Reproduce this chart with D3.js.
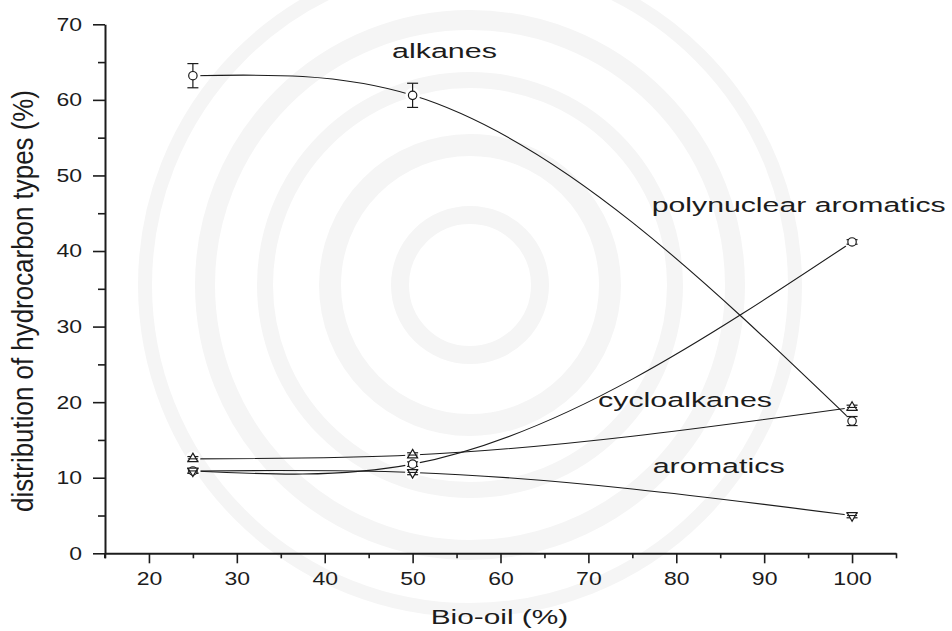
<!DOCTYPE html>
<html>
<head>
<meta charset="utf-8">
<script src="https://cdn.jsdelivr.net/npm/d3@7"></script>
<style>
  html, body { margin: 0; padding: 0; background: #fff; }
  svg { display: block; font-family: "Liberation Sans", Arial, sans-serif; }
</style>
</head>
<body>
<svg id="chart" width="952" height="631"></svg>
<script>
// Bio-oil share in the feed (%)
const bioOil = [25, 50, 100];

// Hydrocarbon type distribution (%) with error half-widths
const alkanes = [63.2, 60.6, 17.5];
const alkanesErr = [1.6, 1.6, 0.6];
const polynuclear = [10.9, 11.8, 41.2];
const polynuclearErr = [0.3, 0.3, 0.3];
const cycloalkanes = [12.5, 13.0, 19.3];
const cycloalkanesErr = [0.3, 0.3, 0.3];
const aromatics = [10.9, 10.7, 5.0];
const aromaticsErr = [0.3, 0.3, 0.3];

// Axis ticks
const xMajor = [20, 30, 40, 50, 60, 70, 80, 90, 100];
const xMinor = [15, 25, 35, 45, 55, 65, 75, 85, 95, 105];
const yMajor = [0, 10, 20, 30, 40, 50, 60, 70];
const yMinor = [5, 15, 25, 35, 45, 55, 65];

const ink = "#1c1c1c";
const svg = d3.select("#chart");

const x = d3.scaleLinear().domain([15, 105]).range([105, 896]);
const y = d3.scaleLinear().domain([0, 70]).range([553.3, 24.3]);

// very faint seal-like rings in the backdrop
const bg = svg.append("g");
[[70, 18], [140, 22], [205, 16], [265, 20], [325, 14]].forEach(([r, w]) => {
  bg.append("circle").attr("cx", 470).attr("cy", 285).attr("r", r)
    .attr("fill", "none").attr("stroke", "#f5f5f5").attr("stroke-width", w);
});

// Natural cubic spline with x as the independent variable
function NaturalX(context) { this._context = context; }
NaturalX.prototype = {
  areaStart() { this._line = 0; },
  areaEnd() { this._line = NaN; },
  lineStart() { this._x = []; this._y = []; },
  point(px, py) { this._x.push(+px); this._y.push(+py); },
  lineEnd() {
    const xs = this._x, ys = this._y, n = xs.length, c = this._context;
    if (!n) return;
    c.moveTo(xs[0], ys[0]);
    if (n === 1) return;
    if (n === 2) { c.lineTo(xs[1], ys[1]); return; }
    const h = [];
    for (let i = 0; i < n - 1; i++) h.push(xs[i + 1] - xs[i]);
    const M = new Array(n).fill(0);
    const m = n - 2, a = [], b = [], cc = [], d = [];
    for (let k = 0; k < m; k++) {
      const i = k + 1;
      a.push(h[i - 1]);
      b.push(2 * (h[i - 1] + h[i]));
      cc.push(h[i]);
      d.push(6 * ((ys[i + 1] - ys[i]) / h[i] - (ys[i] - ys[i - 1]) / h[i - 1]));
    }
    for (let k = 1; k < m; k++) {
      const w = a[k] / b[k - 1];
      b[k] -= w * cc[k - 1];
      d[k] -= w * d[k - 1];
    }
    M[m] = d[m - 1] / b[m - 1];
    for (let k = m - 2; k >= 0; k--) M[k + 1] = (d[k] - cc[k] * M[k + 2]) / b[k];
    for (let i = 0; i < n - 1; i++) {
      const hi = h[i], s = (ys[i + 1] - ys[i]) / hi;
      const d0 = s - hi * (2 * M[i] + M[i + 1]) / 6;
      const d1 = s + hi * (M[i] + 2 * M[i + 1]) / 6;
      c.bezierCurveTo(xs[i] + hi / 3, ys[i] + d0 * hi / 3,
                      xs[i + 1] - hi / 3, ys[i + 1] - d1 * hi / 3,
                      xs[i + 1], ys[i + 1]);
    }
  }
};
const curveNaturalX = ctx => new NaturalX(ctx);

const series = [
  { name: "alkanes", values: alkanes, err: alkanesErr, shape: "circle" },
  { name: "polynuclear aromatics", values: polynuclear, err: polynuclearErr, shape: "circle" },
  { name: "cycloalkanes", values: cycloalkanes, err: cycloalkanesErr, shape: "up" },
  { name: "aromatics", values: aromatics, err: aromaticsErr, shape: "down" }
];
series.forEach(s => { s.points = bioOil.map((b, i) => ({ x: b, y: s.values[i], e: s.err[i], shape: s.shape })); });

const line = d3.line().x(d => x(d.x)).y(d => y(d.y)).curve(curveNaturalX);

const gLines = svg.append("g");
series.forEach(s => {
  gLines.append("path").attr("d", line(s.points))
    .attr("fill", "none").attr("stroke", ink).attr("stroke-width", 1.1);
});

const allPts = series.flatMap(s => s.points);

// white clearance around each marker
svg.append("g").selectAll("circle").data(allPts).join("circle")
  .attr("cx", d => x(d.x)).attr("cy", d => y(d.y)).attr("r", 7.5).attr("fill", "#fff");

// error bars
const gErr = svg.append("g").attr("stroke", ink).attr("stroke-width", 1.2);
allPts.forEach(d => {
  const cx = x(d.x), y0 = y(d.y - d.e), y1 = y(d.y + d.e);
  gErr.append("line").attr("x1", cx).attr("x2", cx).attr("y1", y0).attr("y2", y1);
  gErr.append("line").attr("x1", cx - 5.5).attr("x2", cx + 5.5).attr("y1", y0).attr("y2", y0);
  gErr.append("line").attr("x1", cx - 5.5).attr("x2", cx + 5.5).attr("y1", y1).attr("y2", y1);
});

// markers
const tri = d3.symbol().type(d3.symbolTriangle).size(42);
const gMk = svg.append("g");
allPts.forEach(d => {
  const cx = x(d.x), cy = y(d.y);
  if (d.shape === "circle") {
    gMk.append("circle").attr("cx", cx).attr("cy", cy).attr("r", 4.2)
      .attr("fill", "#fff").attr("stroke", ink).attr("stroke-width", 1.2);
  } else {
    gMk.append("path").attr("d", tri())
      .attr("transform", `translate(${cx},${cy})` + (d.shape === "down" ? " rotate(180)" : ""))
      .attr("fill", "#fff").attr("stroke", ink).attr("stroke-width", 1.2);
    gMk.append("line").attr("x1", cx - 5).attr("x2", cx + 5).attr("y1", cy).attr("y2", cy)
      .attr("stroke", ink).attr("stroke-width", 1.1);
  }
});

// axes
function styleAxis(g) {
  g.select(".domain").attr("stroke", ink).attr("stroke-width", 2);
  g.selectAll(".tick line").attr("stroke", ink).attr("stroke-width", 1.6);
  g.selectAll(".tick text").attr("fill", ink).attr("font-size", 18.5)
    .attr("font-family", '"Liberation Sans", Arial, sans-serif')
    .attr("lengthAdjust", "spacingAndGlyphs")
    .attr("textLength", function () { return this.textContent.length * 12.8; });
}

svg.append("g").attr("transform", `translate(0,${y(0)})`)
  .call(d3.axisBottom(x).tickValues(xMinor).tickSize(5).tickSizeOuter(0).tickFormat(""))
  .call(g => { g.select(".domain").remove(); g.selectAll(".tick line").attr("stroke", ink).attr("stroke-width", 1.6); });
svg.append("g").attr("transform", `translate(0,${y(0)})`)
  .call(d3.axisBottom(x).tickValues(xMajor).tickSize(10).tickSizeOuter(0).tickPadding(9).tickFormat(d3.format("d")))
  .call(styleAxis);

svg.append("g").attr("transform", `translate(${x(15)},0)`)
  .call(d3.axisLeft(y).tickValues(yMinor).tickSize(7).tickSizeOuter(0).tickFormat(""))
  .call(g => { g.select(".domain").remove(); g.selectAll(".tick line").attr("stroke", ink).attr("stroke-width", 1.6); });
svg.append("g").attr("transform", `translate(${x(15)},0)`)
  .call(d3.axisLeft(y).tickValues(yMajor).tickSize(12).tickSizeOuter(0).tickPadding(11).tickFormat(d3.format("d")))
  .call(styleAxis);

// extend the left axis line slightly below the corner
svg.append("line").attr("x1", x(15)).attr("x2", x(15)).attr("y1", y(0)).attr("y2", y(0) + 5)
  .attr("stroke", ink).attr("stroke-width", 2);

// axis titles
svg.append("text").attr("x", 430.7).attr("y", 624.3)
  .attr("font-size", 20).attr("fill", ink)
  .attr("textLength", 137.6).attr("lengthAdjust", "spacingAndGlyphs")
  .text("Bio-oil (%)");

svg.append("text")
  .attr("transform", "translate(33.3,301) rotate(-90)")
  .attr("text-anchor", "middle")
  .attr("font-size", 29).attr("fill", ink)
  .attr("textLength", 422).attr("lengthAdjust", "spacingAndGlyphs")
  .text("distribution of hydrocarbon types (%)");

// series labels
const labels = [
  { text: "alkanes", x: 392, y: 58.3, w: 105 },
  { text: "polynuclear aromatics", x: 651.7, y: 212.3, w: 294 },
  { text: "cycloalkanes", x: 598, y: 407, w: 174 },
  { text: "aromatics", x: 652.7, y: 472.7, w: 132 }
];
svg.append("g").selectAll("text").data(labels).join("text")
  .attr("x", d => d.x).attr("y", d => d.y)
  .attr("font-size", 20.5).attr("fill", ink)
  .attr("textLength", d => d.w).attr("lengthAdjust", "spacingAndGlyphs")
  .text(d => d.text);
</script>
</body>
</html>
